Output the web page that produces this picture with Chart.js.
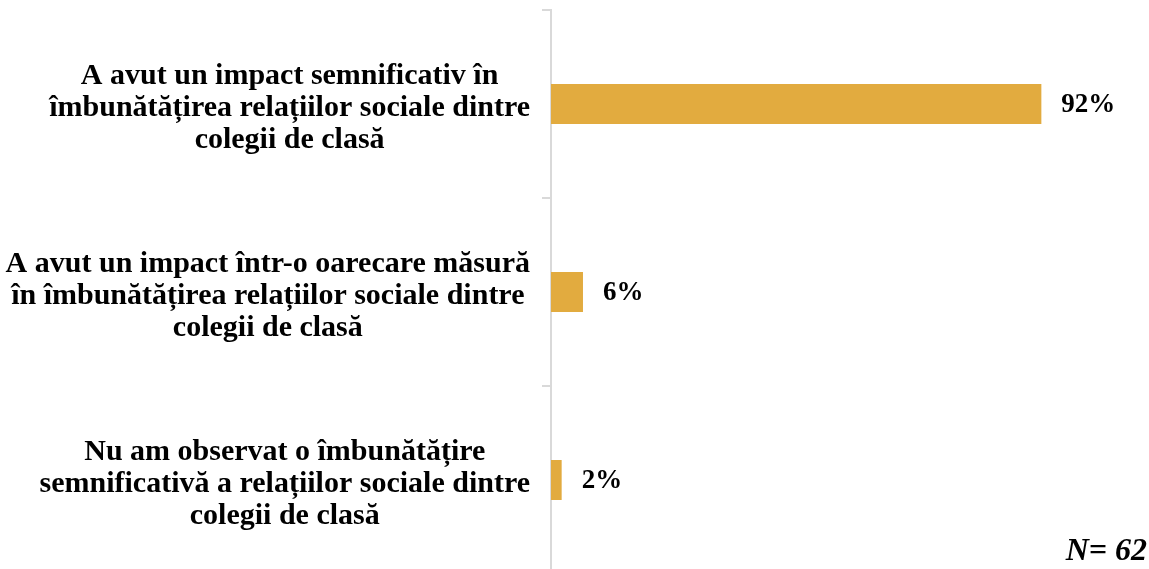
<!DOCTYPE html>
<html>
<head>
<meta charset="utf-8">
<script src="https://cdn.jsdelivr.net/npm/chart.js@4/dist/chart.umd.min.js"></script>
<style>
    html, body { margin: 0; padding: 0; background: #fff; overflow: hidden; }
    #wrap { position: relative; width: 1149px; height: 574px; }
    #note { position: absolute; right: 2px; top: 531px; line-height: 1; font: italic bold 32px "Liberation Serif", "Times New Roman", serif; color: #000; }
</style>
</head>
<body>
<div id="wrap">
    <canvas id="chart" width="1149" height="574"></canvas>
    <div id="note">N= 62</div>
</div>
<script>
// answers, each one split into the lines shown in the picture
const categories = [
    ['A avut un impact semnificativ în', 'îmbunătățirea relațiilor sociale dintre', 'colegii de clasă'],
    ['A avut un impact într-o oarecare măsură', 'în îmbunătățirea relațiilor sociale dintre', 'colegii de clasă'],
    ['Nu am observat o îmbunătățire', 'semnificativă a relațiilor sociale dintre', 'colegii de clasă']
];
const percentages = [92, 6, 2];
const valueLabels = ['92%', '6%', '2%'];

const serif = '"Liberation Serif", "Times New Roman", serif';

// labels on the left, centred on their own widest line, right edge near the axis
const labelPlugin = {
    id: 'labelPlugin',
    afterDraw(chart) {
        const ctx = chart.ctx;
        const yScale = chart.scales.y;
        ctx.save();
        ctx.fillStyle = '#000';
        ctx.font = 'bold 30px ' + serif;
        ctx.textAlign = 'center';
        ctx.textBaseline = 'middle';
        const lineH = 32;
        categories.forEach((lines, i) => {
            const yc = yScale.getPixelForTick(i) + 4;
            let widest = 0;
            lines.forEach(l => { widest = Math.max(widest, ctx.measureText(l).width); });
            const xc = yScale.right - 21 - widest / 2;
            lines.forEach((l, j) => {
                ctx.fillText(l, xc, yc + (j - (lines.length - 1) / 2) * lineH);
            });
        });

        // value labels after each bar
        const meta = chart.getDatasetMeta(0);
        ctx.font = 'bold 27px ' + serif;
        ctx.textAlign = 'left';
        meta.data.forEach((bar, i) => {
            ctx.fillText(valueLabels[i], bar.x + 20, bar.y + 1);
        });
        ctx.restore();
    }
};

let ctx = document.getElementById('chart');

let chart = new Chart(ctx, {
    type: 'bar',
    data: {
        labels: categories,
        datasets: [{
            data: percentages,
            backgroundColor: '#E2AB3F',
            borderWidth: 0,
            categoryPercentage: 1,
            barPercentage: 0.213
        }]
    },
    options: {
        indexAxis: 'y',
        responsive: false,
        animation: false,
        layout: { padding: { top: 10, right: 65, bottom: 0, left: 0 } },
        plugins: {
            legend: { display: false },
            tooltip: { enabled: false }
        },
        scales: {
            x: {
                display: false,
                min: 0,
                max: 100
            },
            y: {
                offset: true,
                ticks: { display: false },
                grid: {
                    offset: true,
                    drawOnChartArea: false,
                    drawTicks: true,
                    tickLength: 9,
                    color: '#d9d9d9',
                    lineWidth: 2
                },
                border: { display: true, color: '#d9d9d9', width: 2 },
                afterFit(scale) {
                    scale.width = 551;
                }
            }
        }
    },
    plugins: [labelPlugin]
});
</script>
</body>
</html>
